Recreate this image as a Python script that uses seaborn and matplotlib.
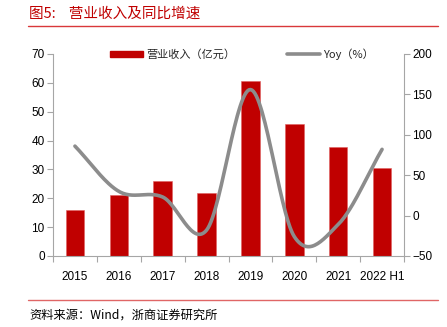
import numpy as np
import pandas as pd
import matplotlib
matplotlib.use("Agg")
import matplotlib.pyplot as plt
import seaborn as sns
from matplotlib.patches import Patch
from matplotlib.lines import Line2D

categories = ["2015", "2016", "2017", "2018", "2019", "2020", "2021", "2022 H1"]
revenue = [15.9, 21.1, 26.0, 21.7, 60.7, 45.6, 37.9, 30.6]
yoy = [86, 30, 23, -18, 156, -26, -11, 82]

sns.set_theme(style="white")
plt.rcParams['font.family'] = ['Liberation Sans', 'Noto Sans CJK SC', 'DejaVu Sans']

RED = "#C00000"
GRAY = "#8C8C8C"
SPINE = "#A6A6A6"

fig = plt.figure(figsize=(4.47, 3.27), dpi=100)
ax = fig.add_axes([53/447, 1-256/327, (404-53)/447, (256-54)/327])

df = pd.DataFrame({"cat": categories, "rev": revenue})
sns.barplot(data=df, x="cat", y="rev", color=RED, width=0.42, ax=ax,
            saturation=1, edgecolor="#E06060", linewidth=0.4)
ax.set_xlim(-0.5, len(categories) - 0.5)
ax.set_ylim(0, 70)
ax.set_yticks(np.arange(0, 71, 10))
ax.set_xlabel("")
ax.set_ylabel("")

# Smooth line (Catmull-Rom through the data points, like Excel smoothing)
def catmull(xs, ys, n=30):
    xs = np.asarray(xs, float); ys = np.asarray(ys, float)
    px = np.concatenate([[2*xs[0]-xs[1]], xs, [2*xs[-1]-xs[-2]]])
    py = np.concatenate([[2*ys[0]-ys[1]], ys, [2*ys[-1]-ys[-2]]])
    ox, oy = [], []
    for i in range(1, len(px)-2):
        t = np.linspace(0, 1, n, endpoint=False)
        for arr, out in ((px, ox), (py, oy)):
            p0, p1, p2, p3 = arr[i-1], arr[i], arr[i+1], arr[i+2]
            out.extend(0.5*((2*p1) + (-p0+p2)*t + (2*p0-5*p1+4*p2-p3)*t**2 + (-p0+3*p1-3*p2+p3)*t**3))
    ox.append(xs[-1]); oy.append(ys[-1])
    return np.array(ox), np.array(oy)

sx, sy = catmull(np.arange(len(categories)), yoy)
ax2 = ax.twinx()
sns.lineplot(x=sx, y=sy, color=GRAY, linewidth=2.6, ax=ax2, sort=False)
ax2.set_ylim(-50, 200)
ax2.set_yticks(np.arange(-50, 201, 50))
ax.set_xlim(-0.5, len(categories) - 0.5)

for a in (ax, ax2):
    for s in a.spines.values():
        s.set_visible(False)
    a.grid(False)
ax.spines["left"].set_visible(True)
ax.spines["bottom"].set_visible(True)
ax2.spines["right"].set_visible(True)
for s in (ax.spines["left"], ax.spines["bottom"], ax2.spines["right"]):
    s.set_color(SPINE)
    s.set_linewidth(0.8)

ax.tick_params(axis="y", which="both", left=True, length=4, width=0.8, color=SPINE,
               labelsize=8.5, labelcolor="#000000", pad=2)
ax2.tick_params(axis="y", right=True, length=4, width=0.8, color=SPINE,
                labelsize=8.5, labelcolor="#000000", pad=2)
ax.set_xticks(np.arange(-0.5, len(categories), 1), minor=True)
ax.tick_params(axis="x", which="major", bottom=False, labelsize=8.5, labelcolor="#000000", pad=5)
ax.tick_params(axis="x", which="minor", bottom=True, length=4, width=0.8, color=SPINE)

handles = [Patch(facecolor=RED, edgecolor=RED),
           Line2D([0], [0], color=GRAY, linewidth=2.6)]
leg = fig.legend(handles, ["营业收入（亿元）", "Yoy（%）"], loc="center left",
                 bbox_to_anchor=(110/447, 1-54/327), bbox_transform=fig.transFigure,
                 ncol=2, frameon=False, borderpad=0, borderaxespad=0,
                 handlelength=3.0, handleheight=0.45, columnspacing=4.6, handletextpad=0.3,
                 prop={"family": ["Noto Sans CJK SC", "DejaVu Sans"], "size": 8})

fig.text(29/447, 1-14/327, "图5:    营业收入及同比增速", color=RED, fontsize=10.5,
         family=["Noto Sans CJK SC", "DejaVu Sans"], va="center", ha="left")
fig.add_artist(Line2D([28/447, 438/447], [1-26/327, 1-26/327], color="#D9383A", linewidth=1.0))
fig.add_artist(Line2D([28/447, 438/447], [1-300/327, 1-300/327], color="#E06666", linewidth=1.0))
fig.text(29/447, 1-315/327, "资料来源：Wind，浙商证券研究所", color="#000000", fontsize=8.8,
         family=["Noto Sans CJK SC", "DejaVu Sans"], va="center", ha="left")

fig.savefig("out.png", dpi=100)
